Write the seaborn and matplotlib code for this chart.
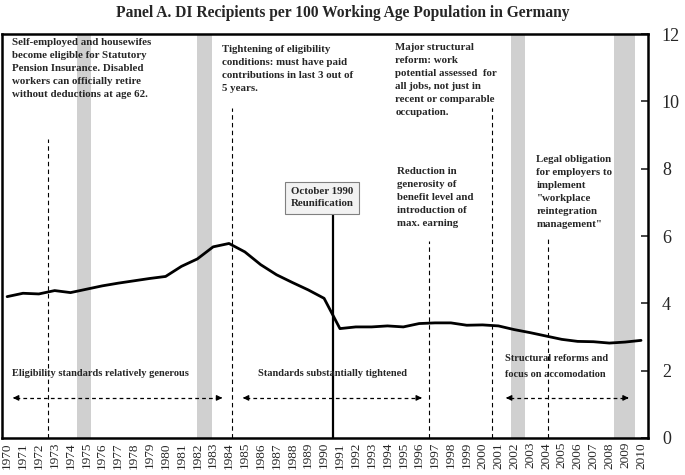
import matplotlib
matplotlib.use('Agg')
import matplotlib.pyplot as plt
import pandas as pd
import seaborn as sns

# data
years = list(range(1970, 2011))
recipients = [4.2, 4.3, 4.28, 4.38, 4.32, 4.42, 4.52, 4.6, 4.67, 4.74,
              4.8, 5.1, 5.32, 5.68, 5.78, 5.53, 5.15, 4.85, 4.62, 4.4,
              4.15, 3.25, 3.3, 3.3, 3.33, 3.3, 3.4, 3.42, 3.42, 3.35,
              3.36, 3.33, 3.22, 3.13, 3.03, 2.93, 2.87, 2.86, 2.82, 2.85,
              2.9]
# recession bands (year index start, end)
recessions = [(4.4, 5.3), (12.0, 12.9), (31.8, 32.7), (38.3, 39.6)]
# reform markers: (year index, top of dashed line)
reform_lines = [(2.6, 8.9), (14.2, 9.8), (26.6, 5.85), (30.6, 9.8), (34.1, 5.95)]
reunification_x = 20.55
periods = [(0.19, 13.75), (14.7, 26.35), (31.3, 39.4)]

df = pd.DataFrame({"idx": range(len(years)), "rate": recipients})

sns.set_style("white")
plt.rcParams['font.family'] = ['Liberation Serif', 'DejaVu Serif']

fig = plt.figure(figsize=(6.85, 4.75), dpi=100)
ax = fig.add_axes([0.003, 0.078, 0.943, 0.85])

for a, b in recessions:
    ax.axvspan(a, b, color='#d0d0d0', lw=0, zorder=1)

sns.lineplot(data=df, x="idx", y="rate", color='black', lw=2, ax=ax, zorder=3)

for x, top in reform_lines:
    ax.vlines(x, 0, top, colors='black', linestyles=(0, (4, 3)), lw=0.8, zorder=2)
ax.vlines(reunification_x, 0, 6.68, colors='black', lw=1.6, zorder=4)

# period arrows
for a, b in periods:
    ax.plot([a + 0.4, b - 0.4], [1.19, 1.19], color='black', ls=(0, (3, 2.5)), lw=0.9, zorder=4)
    ax.annotate('', xy=(a, 1.19), xytext=(a + 0.5, 1.19),
                arrowprops=dict(arrowstyle='-|>', color='black', lw=0.9, mutation_scale=8))
    ax.annotate('', xy=(b, 1.19), xytext=(b - 0.5, 1.19),
                arrowprops=dict(arrowstyle='-|>', color='black', lw=0.9, mutation_scale=8))

note = dict(fontsize=7.8, fontweight='bold', va='top', ha='left', linespacing=1.58, zorder=5)
ax.text(0.32, 11.9, "Self-employed and housewifes\nbecome eligible for Statutory\n"
        "Pension Insurance. Disabled\nworkers can officially retire\n"
        "without deductions at age 62.", **note)
ax.text(13.56, 11.68, "Tightening of eligibility\nconditions: must have paid\n"
        "contributions in last 3 out of\n5 years.", **note)
ax.text(24.5, 11.74, "Major structural\nreform: work\npotential assessed  for\n"
        "all jobs, not just in\nrecent or comparable\noccupation.", **note)
ax.text(24.6, 8.06, "Reduction in\ngenerosity of\nbenefit level and\n"
        "introduction of\nmax. earning", **note)
ax.text(33.4, 8.42, "Legal obligation\nfor employers to\nimplement\n\"workplace\n"
        "reintegration\nmanagement\"", **note)
ax.text(19.86, 7.14, "October 1990\nReunification", fontsize=7.8, fontweight='bold',
        ha='center', va='center', linespacing=1.5, zorder=5,
        bbox=dict(boxstyle='square,pad=0.5', fc='#f2f2f2', ec='#808080', lw=0.8))

period = dict(fontsize=7.5, fontweight='bold', ha='left', zorder=5)
ax.text(0.32, 1.93, "Eligibility standards relatively generous", va='center', **period)
ax.text(15.8, 1.93, "Standards substantially tightened", va='center', **period)
ax.text(31.4, 2.5, "Structural reforms and\nfocus on accomodation", va='top',
        linespacing=2.0, **period)

ax.set_xlim(-0.32, 40.44)
ax.set_ylim(0, 12)
ax.set_xticks(range(len(years)))
ax.set_xticklabels([str(y) for y in years], rotation=90, fontsize=9.5)
ax.set_xticks([i + 0.5 for i in range(len(years) - 1)], minor=True)
ax.tick_params(axis='x', which='major', length=0, pad=3)
ax.tick_params(axis='x', which='minor', direction='in', length=4, width=1)
ax.yaxis.tick_right()
ax.set_yticks(range(0, 13, 2))
ax.tick_params(axis='y', direction='in', length=5, width=1.2, labelsize=13, pad=10)
ax.set_xlabel('')
ax.set_ylabel('')
for s in ax.spines.values():
    s.set_visible(True)
    s.set_color('black')
    s.set_linewidth(1.8)

fig.suptitle("Panel A. DI Recipients per 100 Working Age Population in Germany",
             x=0.5, y=0.99, fontsize=11.2, fontweight='bold')

fig.savefig("out.png", dpi=100)
